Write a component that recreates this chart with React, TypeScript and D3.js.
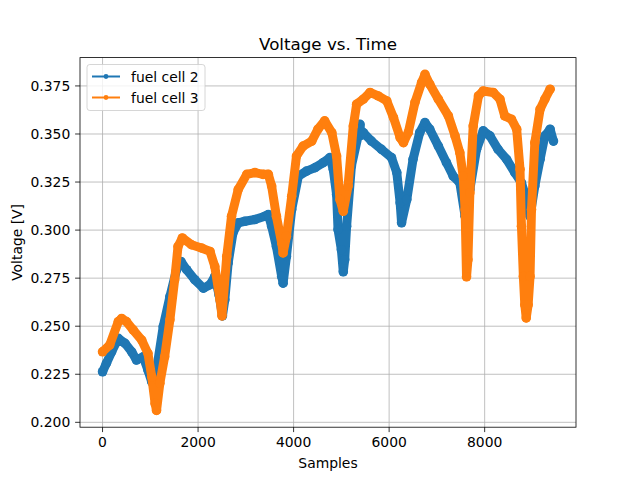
import React from 'react';
import * as d3 from 'd3';

const seriesNames = ['fuel cell 2', 'fuel cell 3'];
const seriesColors = ['#1f77b4', '#ff7f0e'];

const samples2 = [0, 80, 190, 330, 470, 610, 710, 850, 950, 1030, 1130, 1270, 1410, 1550, 1640, 1760, 1930, 2110, 2250, 2350, 2440, 2510, 2560, 2630, 2730, 2840, 2980, 3190, 3400, 3470, 3540, 3640, 3750, 3780, 3850, 3960, 4100, 4270, 4450, 4620, 4760, 4830, 4900, 4930, 5000, 5040, 5070, 5110, 5210, 5350, 5390, 5410, 5460, 5630, 5840, 6050, 6160, 6230, 6260, 6370, 6500, 6640, 6750, 6850, 7030, 7200, 7340, 7480, 7590, 7690, 7830, 7970, 8110, 8280, 8460, 8630, 8770, 8880, 8950, 9050, 9160, 9260, 9370, 9440];
const volts2 = [0.2263, 0.2307, 0.2367, 0.2437, 0.2411, 0.2367, 0.2324, 0.2341, 0.2272, 0.2211, 0.2272, 0.2498, 0.2654, 0.2794, 0.2837, 0.2794, 0.2742, 0.2698, 0.2716, 0.2759, 0.2663, 0.2554, 0.2637, 0.2829, 0.2985, 0.3038, 0.3046, 0.3055, 0.3072, 0.3081, 0.3020, 0.2915, 0.2759, 0.2724, 0.2863, 0.3107, 0.3281, 0.3307, 0.3325, 0.3351, 0.3377, 0.3316, 0.3185, 0.3003, 0.2898, 0.2783, 0.2846, 0.3020, 0.3333, 0.3490, 0.3550, 0.3493, 0.3507, 0.3463, 0.3420, 0.3377, 0.3299, 0.3142, 0.3038, 0.3159, 0.3368, 0.3507, 0.3559, 0.3525, 0.3437, 0.3351, 0.3281, 0.3246, 0.3072, 0.3211, 0.3420, 0.3516, 0.3490, 0.3420, 0.3368, 0.3299, 0.3246, 0.3159, 0.3072, 0.3229, 0.3368, 0.3490, 0.3525, 0.3463];

const samples3 = [0, 150, 330, 400, 500, 640, 820, 950, 1030, 1100, 1130, 1200, 1300, 1410, 1510, 1580, 1670, 1860, 2070, 2250, 2350, 2460, 2500, 2600, 2700, 2840, 3020, 3190, 3360, 3470, 3540, 3640, 3750, 3780, 3850, 3960, 4060, 4200, 4380, 4510, 4650, 4800, 4900, 4970, 5040, 5140, 5250, 5320, 5460, 5600, 5770, 5950, 6090, 6230, 6300, 6400, 6540, 6680, 6750, 6850, 7030, 7240, 7380, 7480, 7550, 7590, 7620, 7650, 7690, 7760, 7870, 7970, 8180, 8320, 8420, 8560, 8670, 8740, 8770, 8810, 8840, 8870, 8910, 8950, 8980, 9050, 9160, 9260, 9370];
const volts3 = [0.2367, 0.2402, 0.2524, 0.2540, 0.2524, 0.2481, 0.2428, 0.2359, 0.2237, 0.2098, 0.2062, 0.2203, 0.2341, 0.2533, 0.2742, 0.2915, 0.2959, 0.2924, 0.2907, 0.2889, 0.2811, 0.2637, 0.2554, 0.2863, 0.3072, 0.3211, 0.3290, 0.3299, 0.3290, 0.3290, 0.3229, 0.3072, 0.2933, 0.2881, 0.2968, 0.3176, 0.3385, 0.3437, 0.3463, 0.3525, 0.3568, 0.3507, 0.3385, 0.3159, 0.3098, 0.3229, 0.3542, 0.3655, 0.3681, 0.3716, 0.3698, 0.3672, 0.3586, 0.3481, 0.3455, 0.3507, 0.3664, 0.3768, 0.3810, 0.3759, 0.3681, 0.3594, 0.3490, 0.3403, 0.3281, 0.3107, 0.2757, 0.2846, 0.3194, 0.3542, 0.3698, 0.3724, 0.3716, 0.3681, 0.3594, 0.3577, 0.3525, 0.3316, 0.3020, 0.2759, 0.2611, 0.2543, 0.2611, 0.2759, 0.3107, 0.3455, 0.3629, 0.3681, 0.3733];

const xTicks = [0, 2000, 4000, 6000, 8000];
const yTicks = [0.2, 0.225, 0.25, 0.275, 0.3, 0.325, 0.35, 0.375];

const titleText = 'Voltage vs. Time';
const xLabel = 'Samples';
const yLabel = 'Voltage [V]';

export default function App() {
  const W = 640;
  const H = 480;
  const left = 80, right = 576, top = 57.6, bottom = 427.2;
  const font = 'DejaVu Sans, sans-serif';

  const allX = [...samples2, ...samples3];
  const allY = [...volts2, ...volts3];
  const [xMin, xMax] = d3.extent(allX) as [number, number];
  const [yMin, yMax] = d3.extent(allY) as [number, number];
  const xPad = (xMax - xMin) * 0.05;
  const yPad = (yMax - yMin) * 0.05;

  const x = d3.scaleLinear().domain([xMin - xPad, xMax + xPad]).range([left, right]);
  const y = d3.scaleLinear().domain([yMin - yPad, yMax + yPad]).range([bottom, top]);

  const line = d3.line<[number, number]>().x(d => x(d[0])).y(d => y(d[1]));
  const series = [
    samples2.map((s, i) => [s, volts2[i]] as [number, number]),
    samples3.map((s, i) => [s, volts3[i]] as [number, number]),
  ];

  return (
    <div style={{ position: 'absolute', left: 0, top: 0 }}>
      <svg width={W} height={H} style={{ display: 'block', background: '#fff' }} fontFamily={font}>
        <rect x={0} y={0} width={W} height={H} fill="#fff" />
        <defs>
          <clipPath id="plotClip">
            <rect x={left} y={top} width={right - left} height={bottom - top} />
          </clipPath>
        </defs>
        {xTicks.map(t => (
          <line key={'gx' + t} x1={x(t)} x2={x(t)} y1={top} y2={bottom} stroke="#b0b0b0" strokeWidth={0.8} />
        ))}
        {yTicks.map(t => (
          <line key={'gy' + t} x1={left} x2={right} y1={y(t)} y2={y(t)} stroke="#b0b0b0" strokeWidth={0.8} />
        ))}
        <g clipPath="url(#plotClip)">
          {series.map((d, i) => (
            <g key={'s' + i}>
              <path d={line(d) || ''} fill="none" stroke={seriesColors[i]} strokeWidth={9}
                strokeLinejoin="round" strokeLinecap="round" />
              {d.map((p, j) => (
                <circle key={j} cx={x(p[0])} cy={y(p[1])} r={4.8} fill={seriesColors[i]} />
              ))}
            </g>
          ))}
        </g>
        <rect x={left} y={top} width={right - left} height={bottom - top} fill="none" stroke="#000" strokeWidth={0.8} />
        {xTicks.map(t => (
          <g key={'xt' + t}>
            <line x1={x(t)} x2={x(t)} y1={bottom} y2={bottom + 4.9} stroke="#000" strokeWidth={0.8} />
            <text x={x(t)} y={447} textAnchor="middle" fontSize={13.9} fill="#000">{String(t)}</text>
          </g>
        ))}
        {yTicks.map(t => (
          <g key={'yt' + t}>
            <line x1={left - 4.9} x2={left} y1={y(t)} y2={y(t)} stroke="#000" strokeWidth={0.8} />
            <text x={left - 9.7} y={y(t)} dy="0.36em" textAnchor="end" fontSize={13.9} fill="#000">{d3.format('.3f')(t)}</text>
          </g>
        ))}
        <text x={(left + right) / 2} y={50} textAnchor="middle" fontSize={16.7} fill="#000">{titleText}</text>
        <text x={(left + right) / 2} y={468} textAnchor="middle" fontSize={13.9} fill="#000">{xLabel}</text>
        <text transform={`translate(22, ${(top + bottom) / 2}) rotate(-90)`} textAnchor="middle" fontSize={13.9} fill="#000">{yLabel}</text>
        <g>
          <rect x={87} y={64.5} width={118} height={46} rx={2.8} fill="#fff" fillOpacity={0.8} stroke="#cccccc" strokeWidth={0.8} />
          {seriesNames.map((name, i) => {
            const ly = 76.5 + i * 21;
            return (
              <g key={'lg' + i}>
                <line x1={92} x2={120} y1={ly} y2={ly} stroke={seriesColors[i]} strokeWidth={2} />
                <circle cx={106} cy={ly} r={2.4} fill={seriesColors[i]} />
                <text x={131} y={ly} dy="0.36em" fontSize={13.9} fill="#000">{name}</text>
              </g>
            );
          })}
        </g>
      </svg>
    </div>
  );
}
